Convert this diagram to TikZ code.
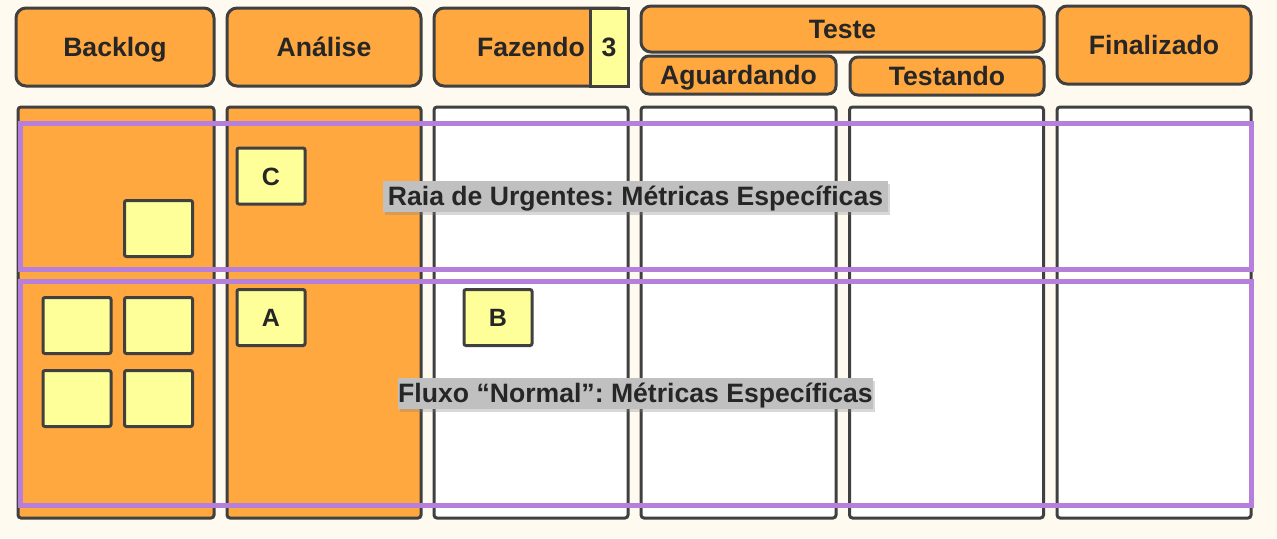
\documentclass[tikz,border=0pt]{standalone}
\usepackage{fontspec}
\setmainfont{Liberation Sans}
\usepackage{tikz}
\usetikzlibrary{shadows}
\definecolor{creme}{RGB}{255,250,240}
\definecolor{laranja}{RGB}{255,168,64}
\definecolor{amarelo}{RGB}{255,255,153}
\definecolor{borda}{RGB}{64,64,64}
\definecolor{roxo}{RGB}{181,127,219}
\definecolor{cinza}{RGB}{192,192,192}
\definecolor{texto}{RGB}{38,38,38}
\newcommand{\rotulo}{\fontsize{13.3}{15}\selectfont\bfseries}
\frenchspacing

\begin{document}
\begin{tikzpicture}[x=0.5pt,y=-0.5pt,
	head/.style={draw=borda,line width=1.5pt,fill=laranja,rounded corners=5pt,inner sep=0pt,font=\rotulo,text=texto,text height=9.5pt,text depth=0pt},
	col/.style={draw=borda,line width=1.5pt,rounded corners=1.5pt,minimum width=97pt,minimum height=205.5pt,inner sep=0pt},
	card/.style={draw=borda,line width=1.5pt,fill=amarelo,rounded corners=1pt,minimum width=34pt,minimum height=28pt,inner sep=0pt,font=\fontsize{12.5}{14}\selectfont\bfseries,text=texto,text height=9pt,text depth=0pt},
	lane/.style={draw=roxo,line width=2.5pt,inner sep=0pt,minimum width=615.5pt},
	tag/.style={fill=cinza,inner sep=0pt,minimum height=15.5pt,font=\rotulo,text=texto,text height=9.5pt,text depth=0pt,drop shadow={opacity=0.3,shadow xshift=1pt,shadow yshift=-1.5pt}}]
	\fill[creme] (0,0) rectangle (1277,538);
	\useasboundingbox (0,0) rectangle (1277,538);
	\node[col,fill=laranja,minimum width=98pt] (cBacklog) at (116,312.5) {};
	\node[col,fill=laranja] (cAnalise) at (324,312.5) {};
	\node[col,fill=white] (cFazendo) at (531,312.5) {};
	\node[col,fill=white,minimum width=97.5pt] (cAguardando) at (738.5,312.5) {};
	\node[col,fill=white] (cTestando) at (946.5,312.5) {};
	\node[col,fill=white] (cFinalizado) at (1154,312.5) {};
	\node[head,minimum width=99pt,minimum height=39pt] (backlog) at (115,47) {Backlog};
	\node[head,minimum width=97pt,minimum height=39pt] (analise) at (324,47) {Análise};
	\node[head,minimum width=97pt,minimum height=39pt] (fazendo) at (531,47) {Fazendo};
	\node[card,font=\rotulo,text height=9.5pt,rounded corners=0pt,minimum width=19pt,minimum height=39pt] (wip) at (609,47) {3};
	\node[head,minimum width=201.5pt,minimum height=23pt] (teste) at (842.5,29) {Teste};
	\node[head,rounded corners=4pt,minimum width=97.5pt,minimum height=19pt] (aguardando) at (738.5,75) {Aguardando};
	\node[head,rounded corners=4pt,minimum width=97pt,minimum height=19pt] (testando) at (947,76) {Testando};
	\node[head,minimum width=97pt,minimum height=39pt] (finalizado) at (1154,45) {Finalizado};
	\node[card] (u1) at (158.5,228.5) {};
	\node[card] (cardC) at (271,176) {C};
	\node[card] (cardA) at (271,317.5) {A};
	\node[card] (cardB) at (498,317.5) {B};
	\node[card] (n1) at (77,325.5) {};
	\node[card] (n2) at (158.5,325.5) {};
	\node[card] (n3) at (77,398.5) {};
	\node[card] (n4) at (158.5,398.5) {};
	\node[lane,minimum height=73pt] (urgentes) at (635.5,196) {};
	\node[lane,minimum height=112pt] (normal) at (635.5,393) {};
	\node[tag,minimum width=252.5pt] (tUrgentes) at (urgentes) {Raia de Urgentes: Métricas Específicas};
	\node[tag,minimum width=237.5pt] (tNormal) at (normal) {Fluxo “Normal”: Métricas Específicas};
\end{tikzpicture}
\end{document}
